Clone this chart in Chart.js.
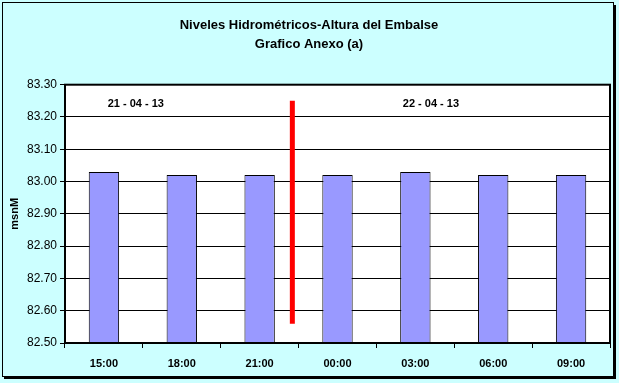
<!DOCTYPE html>
<html>
<head>
<meta charset="utf-8">
<script src="https://cdn.jsdelivr.net/npm/chart.js@4/dist/chart.umd.min.js"></script>
<style>
  html, body { margin: 0; padding: 0; background: #fff; }
  #wrap { width: 619px; height: 383px; }
</style>
</head>
<body>
<div id="wrap"><canvas id="c" width="619" height="383"></canvas></div>
<script>
// datos
const horas = ["15:00", "18:00", "21:00", "00:00", "03:00", "06:00", "09:00"];
const alturas = [83.03, 83.02, 83.02, 83.02, 83.03, 83.02, 83.02];
const yTicks = [82.5, 82.6, 82.7, 82.8, 82.9, 83.0, 83.1, 83.2, 83.3];

// linea roja de cambio de dia (x en unidades de categoria)
const cambioX = [2.42, 2.42];
const cambioY = [83.25, 82.56];

// rotulos de fecha
const fechas = ["21 - 04 - 13", "22 - 04 - 13"];
const fechaX = [0.41, 4.2];
const fechaY = 83.24;

const titulo = ["Niveles Hidrométricos-Altura del Embalse", "Grafico Anexo (a)"];

const fondo = {
  id: "fondo",
  beforeDraw(chart) {
    const ctx = chart.ctx;
    ctx.save();
    ctx.fillStyle = "#CCFFFF";
    ctx.fillRect(0, 0, chart.width, chart.height);
    ctx.fillStyle = "#000";
    ctx.fillRect(4, 5, 612, 374);
    ctx.fillStyle = "#CCFFFF";
    ctx.fillRect(3, 3, 610, 373);
    ctx.strokeStyle = "#000";
    ctx.lineWidth = 1;
    ctx.strokeRect(2.5, 2.5, 611, 374);
    const a = chart.chartArea;
    ctx.fillStyle = "#fff";
    ctx.fillRect(a.left, a.top, a.right - a.left, a.bottom - a.top);
    ctx.restore();
  },
  afterDraw(chart) {
    const ctx = chart.ctx;
    const a = chart.chartArea;
    const x2 = chart.scales.x2, y = chart.scales.y;
    ctx.save();
    ctx.strokeStyle = "#000";
    ctx.lineWidth = 2;
    ctx.strokeRect(a.left, a.top, a.right - a.left, a.bottom - a.top);
    ctx.fillStyle = "#000";
    ctx.font = "bold 11px 'Liberation Sans', Arial, sans-serif";
    ctx.textAlign = "center";
    ctx.textBaseline = "middle";
    fechas.forEach((f, i) => {
      ctx.fillText(f, x2.getPixelForValue(fechaX[i]), y.getPixelForValue(fechaY));
    });
    ctx.restore();
  }
};

new Chart(document.getElementById("c"), {
  type: "bar",
  data: {
    labels: horas,
    datasets: [
      {
        data: alturas,
        backgroundColor: "#9999FF",
        borderColor: "#000",
        borderWidth: 1,
        borderSkipped: "bottom",
        grouped: false,
        categoryPercentage: 1,
        barPercentage: 0.39,
        order: 2
      },
      {
        type: "line",
        xAxisID: "x2",
        data: cambioX.map((x, i) => ({ x, y: cambioY[i] })),
        borderColor: "#FF0000",
        borderWidth: 5,
        pointRadius: 0,
        order: 1
      }
    ]
  },
  options: {
    responsive: false,
    animation: false,
    layout: { padding: { left: 8, right: 9, top: 0, bottom: 0 } },
    plugins: {
      legend: { display: false },
      tooltip: { enabled: false },
      title: {
        display: true,
        text: titulo,
        color: "#000",
        font: { family: "'Liberation Sans', Arial, sans-serif", size: 13, weight: "bold", lineHeight: 1.45 },
        padding: { top: 16, bottom: 31 }
      }
    },
    scales: {
      x: {
        offset: true,
        grid: { display: true, drawOnChartArea: false, drawTicks: true, tickLength: 5, color: "#000", offset: true },
        border: { display: true, color: "#000", width: 2 },
        ticks: { color: "#000", font: { family: "'Liberation Sans', Arial, sans-serif", size: 11, weight: "bold" }, padding: 9 },
        afterFit(s) { s.height = 40; }
      },
      x2: {
        type: "linear",
        min: -0.5,
        max: 6.5,
        offset: false,
        grid: { offset: false },
        display: false
      },
      y: {
        min: 82.5,
        max: 83.3,
        afterBuildTicks(s) { s.ticks = yTicks.map(v => ({ value: v })); },
        grid: { color: "#000", lineWidth: 1, tickLength: 5, drawTicks: true },
        border: { display: true, color: "#000", width: 2 },
        ticks: {
          color: "#000",
          font: { family: "'Liberation Sans', Arial, sans-serif", size: 12 },
          padding: 3,
          callback: v => Number(v).toFixed(2)
        },
        title: {
          display: true,
          text: "msnM",
          color: "#000",
          font: { family: "'Liberation Sans', Arial, sans-serif", size: 11, weight: "bold" },
          padding: 0
        },
        afterFit(s) { s.width = 57; }
      }
    }
  },
  plugins: [fondo]
});
</script>
</body>
</html>
